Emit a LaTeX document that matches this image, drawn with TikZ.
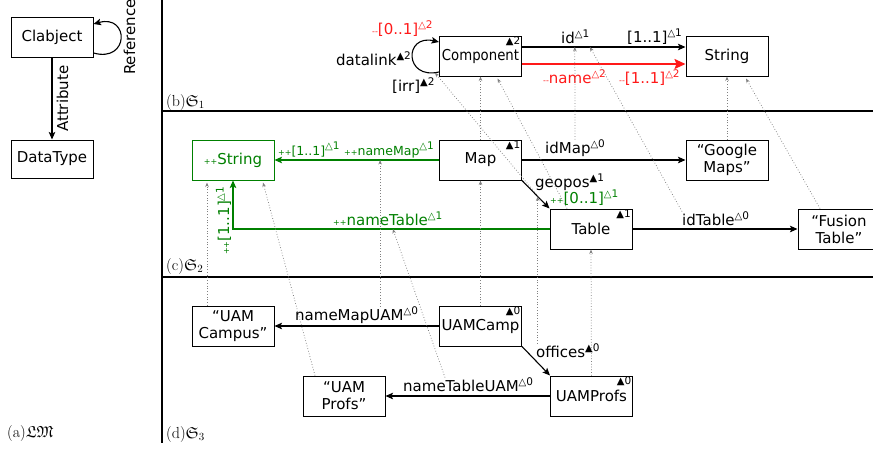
\documentclass[tikz,border=0pt]{standalone}
\usepackage{fontspec}
\usepackage{amssymb}
\usepackage{graphicx}
\usetikzlibrary{arrows.meta,calc}
\newfontfamily\dv{DejaVu Sans}
\definecolor{addgreen}{RGB}{0,128,0}
\definecolor{delred}{RGB}{255,25,25}
% potency / level superscripts
\newcommand\sups[2]{\raisebox{5.5pt}{\fontsize{10}{10}\selectfont#1\fontsize{10.5}{11}\selectfont#2}}
\newcommand\pot[1]{\sups{△}{#1}}
\newcommand\lev[1]{\sups{▲}{#1}}
\newcommand\levc[1]{{\fontsize{10}{10}\selectfont▲\fontsize{10.5}{11}\selectfont#1}}
% added / deleted markers
\newcommand\addm{{\fontsize{8}{8}\selectfont++}}
\newcommand\delm{{\fontsize{8}{8}\selectfont-{}-}}
\begin{document}
\begin{tikzpicture}[x=1pt,y=-1pt,
  box/.style={draw,line width=1pt,minimum width=82pt,minimum height=40pt,
    inner sep=1pt,align=center,font=\dv\fontsize{15}{17}\selectfont},
  lev/.style={label={[anchor=north east,inner sep=1.5pt,font=\dv]north east:\levc{#1}}},
  lbl/.style={font=\dv\fontsize{15}{17}\selectfont,inner sep=0pt,anchor=base west},
  slbl/.style={lbl,font=\dv\fontsize{12.5}{14}\selectfont},
  panel/.style={font=\fontsize{16}{18}\selectfont,inner sep=0pt,anchor=base west},
  rel/.style={line width=1.1pt,-{Stealth[length=7.5pt,width=6.5pt,inset=1.5pt]}},
  addrel/.style={rel,draw=addgreen},
  delrel/.style={line width=1.8pt,draw=delred,-{Stealth[length=11pt,width=10pt,inset=2pt]}},
  inst/.style={draw=gray,dotted,line width=0.75pt,-{Stealth[length=4.5pt,width=3.5pt]}},
  sep/.style={line width=1.2pt}
]
\useasboundingbox (0,0) rectangle (873,450);

% panel frames
\draw[sep] (162,0) -- (162,443);
\draw[sep] (162,111) -- (873,111);
\draw[sep] (162,277) -- (873,277);

% (a) linguistic metamodel
\node[box] (clab) at (52,37) {Clabject};
\node[box,minimum height=38pt] (dtype) at (52,159) {DataType};
\draw[rel] (clab) -- (dtype);
\draw[rel] ($(clab.east)+(0,16)$) .. controls +(36,10) and +(36,-10) .. ($(clab.east)+(0,-13)$);
\node[lbl,rotate=90] (lref) at (135,75) {Reference};
\node[lbl,rotate=90] (lattr) at (68,132) {Attribute};
\node[panel] (pa) at (7,437) {(a)$\mathfrak{LM}$};

% (b) S1
\node[box,lev=2] (comp) at (480.5,56) {\scalebox{0.885}[1]{Component}};
\node[box] (str1) at (727,56) {String};
\draw[rel] ($(comp.west)+(0,16)$) .. controls +(-35,8) and +(-35,-8) .. ($(comp.west)+(0,-14)$)
  coordinate[pos=0.04] (dlb);
\node[lbl] (ldl) at (336,65) {datalink\lev{2}};
\node[lbl,text=delred] (ldlm) at (372,34) {\delm[0..1]\pot{2}};
\node[lbl] (lirr) at (392,91) {[irr]\lev{2}};
\draw[rel] ($(comp.east)+(0,-9)$) -- coordinate[pos=0.323] (idA) coordinate[pos=0.415] (idB) ($(str1.west)+(0,-9)$);
\node[lbl] (lid) at (561,43) {id\pot{1}};
\node[lbl] (lidm) at (627,42) {[1..1]\pot{1}};
\draw[delrel] ($(comp.east)+(0,8)$) -- ($(str1.west)+(0,8)$);
\node[lbl,text=delred] (lname) at (543,83) {\delm name\pot{2}};
\node[lbl,text=delred] (lnamem) at (619,83) {\delm[1..1]\pot{2}};
\node[panel] (pb) at (166,106) {(b)$\mathfrak{S}_1$};

% (c) S2
\node[box,draw=addgreen,text=addgreen] (pstr) at (233,160) {\addm String};
\node[box,lev=1] (map) at (480.5,160) {Map};
\node[box] (gmaps) at (727,160) {“Google\\Maps”};
\node[box,lev=1] (table) at (591,229) {Table};
\node[box] (ftable) at (839,229) {“Fusion\\Table”};
\draw[addrel] (map) -- coordinate[pos=0.358] (nmA) (pstr);
\node[slbl,text=addgreen] (lnmm) at (278,155) {\addm[1..1]\pot{1}};
\node[slbl,text=addgreen] (lnm) at (344,155) {\addm nameMap\pot{1}};
\draw[rel] (map) -- (gmaps);
\node[lbl] (lidmap) at (545,153) {idMap\pot{0}};
\draw[rel] (map.south east) -- coordinate[pos=0.7] (geoA) coordinate[pos=0.57] (geoB) (table.north west);
\node[lbl] (lgeo) at (535,187) {geopos\lev{1}};
\node[lbl,text=addgreen] (lgeom) at (550,203) {\addm[0..1]\pot{1}};
\coordinate (ntbend) at (pstr.south |- table.west);
\draw[addrel] (table.west) -- coordinate[pos=0.495] (ntA) (ntbend) -- (pstr.south);
\node[lbl,text=addgreen] (lnt) at (333,225) {\addm nameTable\pot{1}};
\node[lbl,text=addgreen,rotate=90] (lntm) at (229,255) {\addm[1..1]\pot{1}};
\draw[rel] (table) -- (ftable);
\node[lbl] (lidt) at (682,225) {idTable\pot{0}};
\node[panel] (pc) at (166,270) {(c)$\mathfrak{S}_2$};

% (d) S3
\node[box] (ucampus) at (233,326) {“UAM\\Campus”};
\node[box,lev=0] (uamcamp) at (480.5,326) {UAMCamp};
\node[box] (uprofs) at (344,396) {“UAM\\Profs”};
\node[box,lev=0] (uamprofs) at (591.5,396) {UAMProfs};
\draw[rel] (uamcamp) -- (ucampus);
\node[lbl] (lnmu) at (295,320) {nameMapUAM\pot{0}};
\draw[rel] (uamcamp.south east) -- (uamprofs.north west);
\node[lbl] (loff) at (536,357) {offices\lev{0}};
\draw[rel] (uamprofs) -- (uprofs);
\node[lbl] (lntu) at (403,391) {nameTableUAM\pot{0}};
\node[panel] (pd) at (166,438) {(d)$\mathfrak{S}_3$};

% instance-of links
\draw[inst] (map.north) -- (comp.south);
\draw[inst] ($(table.north)+(-24,0)$) -- ($(comp.south)+(17,2)$);
\draw[inst] (geoA) -- (dlb);
\draw[inst] (lidmap.north) -- (idA);
\draw[inst] (lidt.north west) -- (idB);
\draw[inst] (gmaps.north) -- (str1.south);
\draw[inst] ($(ftable.north)+(-19,0)$) -- ($(str1.south)+(19,2)$);
\draw[inst] ($(ucampus.north)+(-26,0)$) -- ($(pstr.south)+(-26,2)$);
\draw[inst] ($(uprofs.north)+(-29,0)$) -- ($(pstr.south)+(30,2)$);
\draw[inst] (nmA |- lnmu.north) -- (nmA);
\draw[inst] ($(lntu.north west)+(42,0)$) -- (ntA);
\draw[inst] (uamcamp.north) -- (map.south);
\draw[inst] (uamprofs.north) -- (table.south);
\draw[inst] (geoB |- loff.north) -- (geoB);
\end{tikzpicture}
\end{document}
